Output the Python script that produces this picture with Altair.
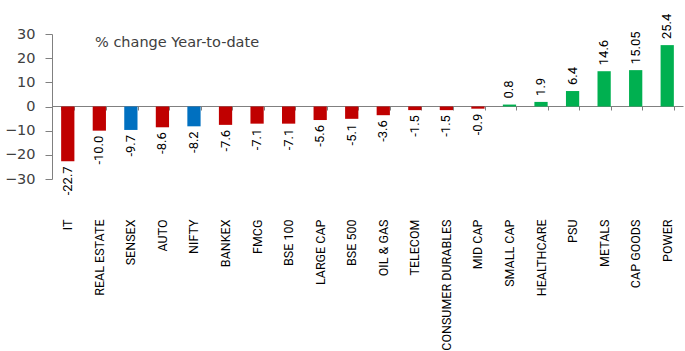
import altair as alt
import pandas as pd

categories = ["IT", "REAL ESTATE", "SENSEX", "AUTO", "NIFTY", "BANKEX", "FMCG", "BSE 100",
              "LARGE CAP", "BSE 500", "OIL & GAS", "TELECOM", "CONSUMER DURABLES", "MID CAP",
              "SMALL CAP", "HEALTHCARE", "PSU", "METALS", "CAP GOODS", "POWER"]
values = [-22.7, -10.0, -9.7, -8.6, -8.2, -7.6, -7.1, -7.1, -5.6, -5.1, -3.6, -1.5, -1.5, -0.9,
          0.8, 1.9, 6.4, 14.6, 15.05, 25.4]
value_labels = ["-22.7", "-10.0", "-9.7", "-8.6", "-8.2", "-7.6", "-7.1", "-7.1", "-5.6", "-5.1",
                "-3.6", "-1.5", "-1.5", "-0.9", "0.8", "1.9", "6.4", "14.6", "15.05", "25.4"]
groups = ["neg", "neg", "index", "neg", "index", "neg", "neg", "neg", "neg", "neg", "neg", "neg",
          "neg", "neg", "pos", "pos", "pos", "pos", "pos", "pos"]
y_ticks = [-30, -20, -10, 0, 10, 20, 30]
title_text = "% change Year-to-date"

df = pd.DataFrame({"cat": categories, "val": values, "lab": value_labels, "grp": groups})

narrow = "Roboto, Liberation Sans, sans-serif"

x_scale = alt.Scale(paddingInner=0.58, paddingOuter=0.29)
x_axis = alt.Axis(title=None, orient="bottom", offset=-73, labelAngle=-90,
                  labelAlign="right", labelBaseline="middle",
                  labelFont=narrow, labelFontSize=12.5, labelColor="#000000",
                  labelPadding=109, tickSize=4, tickBand="extent",
                  domainColor="#808080", tickColor="#808080", labelOverlap=False)
y_scale = alt.Scale(domain=[-30, 30], nice=False)
y_axis = alt.Axis(title=None, values=y_ticks, grid=False, tickSize=7, labelPadding=10,
                  labelFont="DejaVu Sans", labelFontSize=14.5, labelColor="#404040",
                  labelOverlap=False, labelFlush=False,
                  domainColor="#808080", tickColor="#808080")


def xe():
    return alt.X("cat:N", sort=categories, scale=x_scale, axis=x_axis)


def ye():
    return alt.Y("val:Q", scale=y_scale, axis=y_axis)


bars = alt.Chart(df).mark_bar().encode(
    x=xe(), y=ye(),
    color=alt.Color("grp:N", legend=None,
                    scale=alt.Scale(domain=["neg", "index", "pos"],
                                    range=["#C00000", "#0070C0", "#00B050"])),
)

pos_text = alt.Chart(df).transform_filter("datum.val >= 0").mark_text(
    angle=270, align="left", baseline="middle", dx=6, font=narrow, fontSize=13, color="#000000"
).encode(x=xe(), y=ye(), text="lab:N")

neg_text = alt.Chart(df).transform_filter("datum.val < 0").mark_text(
    angle=270, align="right", baseline="middle", dx=-5, font=narrow, fontSize=13, color="#000000"
).encode(x=xe(), y=ye(), text="lab:N")

title = alt.Chart(pd.DataFrame({"t": [title_text]})).mark_text(
    align="left", baseline="middle", font="DejaVu Sans", fontSize=14.5, color="#404040"
).encode(x=alt.value(43), y=alt.value(9), text="t:N")

chart = alt.layer(bars, pos_text, neg_text, title).properties(
    width=631, height=145,
    autosize=alt.AutoSizeParams(type="none"),
    padding={"left": 52, "top": 34, "right": 2, "bottom": 172},
).configure_view(stroke=None)

chart.save("out.html", embed_options={"renderer": "svg", "actions": False})
